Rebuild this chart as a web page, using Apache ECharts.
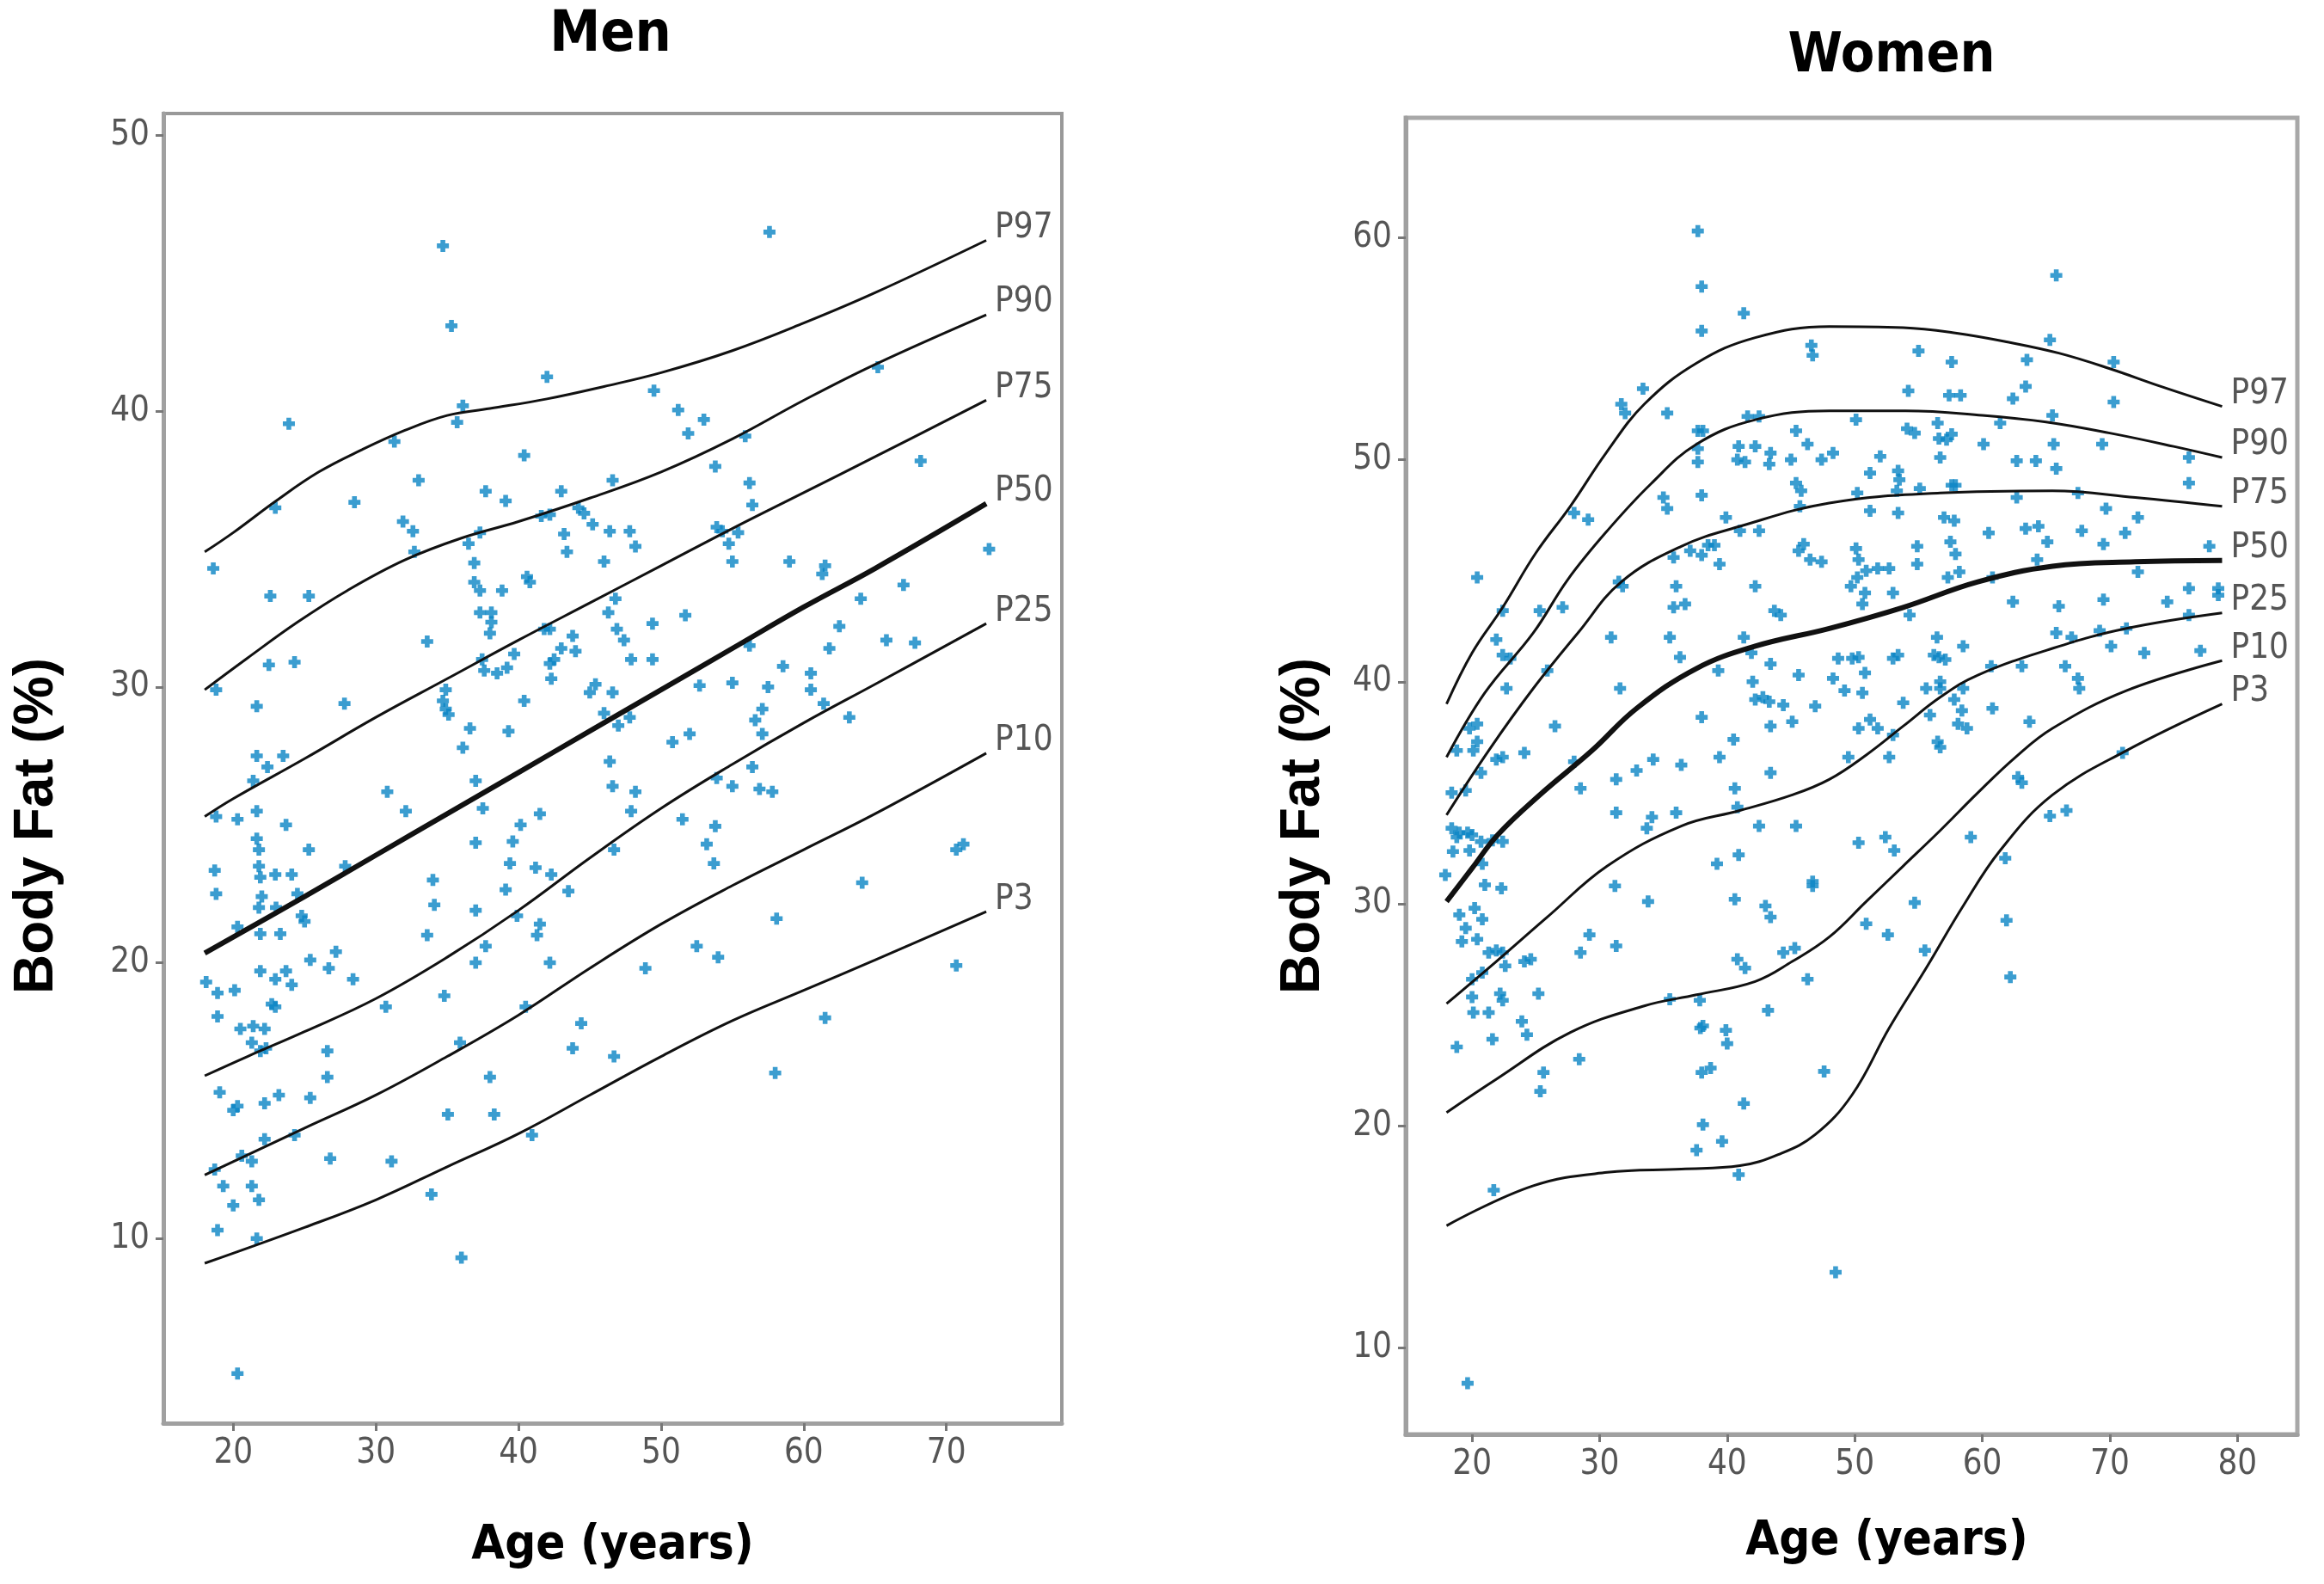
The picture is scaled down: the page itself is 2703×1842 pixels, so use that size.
<!DOCTYPE html>
<html><head><meta charset="utf-8">
<script src="https://cdn.jsdelivr.net/npm/echarts@6/dist/echarts.min.js"></script>
<style>html,body{margin:0;padding:0;background:#fff}#c{width:2703px;height:1842px}</style>
</head><body><div id="c"></div>
<script>
// ---------- tick labels ----------
const menXTicks = [20, 30, 40, 50, 60, 70];
const menYTicks = [10, 20, 30, 40, 50];
const womenXTicks = [20, 30, 40, 50, 60, 70, 80];
const womenYTicks = [10, 20, 30, 40, 50, 60];
const percentileNames = ['P97', 'P90', 'P75', 'P50', 'P25', 'P10', 'P3'];

// ---------- Men percentile curves [age, body fat %] ----------
const menP97 = [[18,34.9],[20,35.6],[23,36.75],[26,37.8],[29,38.6],[32,39.3],[35,39.85],[38,40.1],[42,40.45],[46,40.9],[50,41.4],[55,42.2],[60,43.2],[65,44.3],[72.8,46.2]];
const menP90 = [[18,29.9],[21,31.05],[24.5,32.35],[28,33.5],[32,34.6],[36,35.4],[40,36.0],[45,36.85],[50,37.8],[55,39.0],[60,40.4],[65,41.7],[72.8,43.5]];
const menP75 = [[18,25.3],[20,25.95],[25,27.4],[30,28.9],[35,30.3],[40,31.7],[45,33.05],[50,34.4],[55,35.75],[60,37.05],[65,38.35],[72.8,40.4]];
const menP50 = [[18,20.35],[25,22.4],[30,23.9],[35,25.4],[40,26.9],[45,28.4],[50,29.9],[55,31.4],[60,32.9],[65,34.3],[72.8,36.65]];
const menP25 = [[18,15.9],[21,16.6],[25,17.5],[30,18.7],[35,20.2],[40,21.9],[45,23.8],[50,25.6],[55,27.2],[60,28.7],[65,30.1],[72.8,32.3]];
const menP10 = [[18,12.3],[25,14.0],[30,15.2],[35,16.6],[40,18.1],[45,19.8],[50,21.4],[55,22.8],[60,24.1],[65,25.4],[72.8,27.6]];
const menP3  = [[18,9.1],[25,10.4],[30,11.4],[35,12.6],[40,13.8],[45,15.2],[50,16.6],[55,17.9],[60,19.0],[65,20.1],[72.8,21.85]];

// ---------- Women percentile curves ----------
const womenP97 = [[18,39.0],[20,41.3],[22.4,43.35],[25,45.8],[27.7,47.9],[30.5,50.3],[33.5,52.5],[37.6,54.35],[42.2,55.5],[48,56.0],[53.8,55.95],[58,55.7],[62,55.3],[66,54.8],[70,54.1],[74,53.3],[78.8,52.4]];
const womenP90 = [[18,36.6],[21,39.5],[24.8,42.2],[27.5,44.6],[30.6,46.8],[34,48.9],[37.6,50.7],[42.2,51.8],[48,52.2],[54,52.2],[60,52.0],[65,51.7],[70,51.2],[75,50.6],[78.8,50.1]];
const womenP75 = [[18,34.0],[21.3,36.9],[24.8,39.7],[28.3,42.2],[31.7,44.5],[36.4,46.1],[41,47.0],[48,48.05],[56.7,48.5],[65.5,48.6],[72,48.3],[78.8,47.9]];
const womenP50 = [[18,30.1],[20,31.6],[22,33.1],[25.3,34.9],[29.4,36.9],[32.9,38.8],[37.6,40.6],[42.2,41.6],[48,42.4],[53.8,43.35],[59.65,44.5],[65.5,45.2],[72,45.4],[78.8,45.46]];
const womenP25 = [[18,25.5],[21.9,27.4],[25.9,29.4],[30.6,31.7],[36.4,33.5],[41,34.2],[45.1,34.9],[48,35.6],[50.9,36.7],[53.8,38.0],[56.7,39.3],[59.65,40.3],[65.5,41.5],[71.3,42.4],[78.8,43.1]];
const womenP10 = [[18,20.6],[21.9,22.1],[27.7,24.2],[33.5,25.4],[37.6,25.9],[42.2,26.5],[45.1,27.4],[48,28.5],[50.9,30.1],[53.8,31.7],[56.7,33.3],[59.65,35.0],[62.6,36.6],[65.5,37.9],[71.3,39.6],[78.8,40.95]];
const womenP3  = [[18,15.5],[24.8,17.3],[30.6,17.9],[36.4,18.05],[41,18.2],[44,18.7],[46.9,19.6],[49.8,21.4],[52.7,24.4],[55.6,27.1],[58.5,29.9],[61.4,32.4],[65.5,34.9],[71.3,36.9],[78.8,39.0]];

// ---------- Men measurements [age, body fat %] ----------
const menPoints = [
[34.7,46.0],[35.3,43.1],[57.6,46.5],[42.0,41.25],[49.5,40.75],[51.2,40.05],[53.0,39.7],[51.9,39.2],[55.9,39.1],[36.1,40.2],[35.7,39.6],[23.9,39.55],[31.3,38.9],[33.0,37.5],[28.5,36.7],[22.95,36.5],[37.7,37.1],[39.1,36.75],[43.0,37.1],[40.4,38.4],[46.6,37.5],[53.8,38.0],[56.2,37.4],[56.4,36.6],[68.2,38.2],[65.2,41.6],
[31.9,36.0],[32.6,35.65],[32.7,34.9],[36.5,35.2],[36.9,34.5],[37.3,35.6],[41.6,36.2],[42.2,36.25],[43.2,35.55],[43.4,34.9],[44.2,36.5],[44.6,36.3],[45.2,35.9],[46.4,35.65],[47.8,35.65],[48.2,35.1],[46.0,34.55],[53.9,35.8],[54.3,35.65],[54.75,35.2],[55.4,35.6],[55.0,34.55],[59.0,34.55],[61.3,34.1],[61.5,34.4],[73.0,35.0],[67.0,33.7],[64.0,33.2],[62.5,32.2],[61.8,31.4],[65.8,31.7],[67.8,31.6],
[58.55,30.75],[60.5,30.5],[60.5,29.9],[61.4,29.4],[63.2,28.9],[57.5,30.0],[57.1,29.2],[56.6,28.8],[57.1,28.3],[56.2,31.5],[55.0,30.15],[52.7,30.05],[51.7,32.6],[49.4,32.3],[49.4,31.0],[47.9,31.0],[47.4,31.7],[46.9,32.1],[46.3,32.7],[46.8,33.2],[46.6,29.8],[45.4,30.1],[45.0,29.8],[46.0,29.05],[47.0,28.6],[47.8,28.9],[52.0,28.3],[50.8,28.0],[46.4,27.3],[46.6,26.4],[48.2,26.2],[53.9,26.7],[55.0,26.4],[56.4,27.1],[56.9,26.3],[57.8,26.2],
[42.2,32.1],[41.8,32.1],[43.8,31.85],[43.0,31.4],[44.0,31.3],[42.5,31.0],[42.2,30.85],[42.3,30.3],[39.7,31.2],[39.2,30.7],[38.5,30.5],[37.6,30.6],[37.45,31.0],[37.3,32.7],[38.1,32.7],[38.1,32.35],[38.0,31.95],[36.9,33.8],[37.3,33.5],[38.85,33.5],[40.6,34.0],[40.8,33.8],[40.4,29.5],[34.9,29.9],[34.7,29.5],[34.9,29.2],[35.1,29.0],[36.6,28.5],[39.3,28.4],[36.1,27.8],[37.0,26.6],[33.6,31.65],[27.8,29.4],[21.65,29.3],[18.8,29.9],[22.5,30.8],[24.3,30.9],[22.6,33.3],[25.3,33.3],[18.6,34.3],[21.65,27.5],[22.4,27.1],[23.5,27.5],[21.4,26.6],[30.8,26.2],
[18.8,25.3],[20.3,25.2],[21.65,25.5],[21.65,24.5],[21.8,24.1],[21.8,23.5],[21.9,23.1],[22.0,22.4],[21.8,22.0],[21.9,21.05],[20.3,21.3],[23.7,25.0],[25.3,24.1],[18.7,23.35],[18.8,22.5],[22.95,23.2],[24.1,23.2],[23.3,21.05],[23.0,22.0],[24.5,22.5],[24.8,21.7],[25.0,21.5],[27.85,23.5],
[21.9,19.7],[23.7,19.7],[22.95,19.4],[24.1,19.2],[25.4,20.1],[26.7,19.8],[27.2,20.4],[28.4,19.4],[18.1,19.3],[18.9,18.9],[20.1,19.0],[22.7,18.5],[22.95,18.4],[18.9,18.05],[20.5,17.6],[21.4,17.7],[22.2,17.6],[21.3,17.1],[21.9,16.8],[22.3,16.9],[26.6,16.8],[26.6,15.85],[19.05,15.3],[20.3,14.8],[20.0,14.65],[22.2,14.9],[23.2,15.2],[25.4,15.1],[22.2,13.6],[24.3,13.75],[20.6,13.0],[21.3,12.8],[18.7,12.5],[26.8,12.9],[31.1,12.8],[19.3,11.9],[21.3,11.9],[20.0,11.2],[21.8,11.4],[18.9,10.3],[21.65,10.0],[20.3,5.1],
[36.0,9.3],[33.9,11.6],[35.05,14.5],[38.3,14.5],[40.95,13.75],[38.0,15.85],[35.9,17.1],[34.8,18.8],[30.7,18.4],[33.6,21.0],[34.1,22.1],[34.0,23.0],[37.0,21.9],[37.0,20.0],[37.7,20.6],[39.9,21.7],[39.1,22.65],[39.4,23.6],[39.6,24.4],[40.15,25.0],[41.2,23.45],[42.3,23.2],[43.5,22.6],[41.5,21.4],[41.3,21.0],[42.2,20.0],[41.5,25.4],[37.0,24.35],[32.1,25.5],[37.5,25.6],[40.5,18.4],[44.4,17.8],[43.8,16.9],[46.7,16.6],
[46.7,24.1],[47.9,25.5],[51.5,25.2],[53.2,24.3],[53.8,24.95],[53.7,23.6],[52.5,20.6],[54.0,20.2],[48.9,19.8],[58.1,21.6],[58.0,16.0],[61.5,18.0],[64.1,22.9],[70.7,24.1],[71.2,24.3],[70.7,19.9]
];

// ---------- Women measurements [age, body fat %] ----------
const womenPoints = [
[37.7,60.3],[38.0,57.8],[38.0,55.8],[41.3,56.6],[65.8,58.3],[46.6,55.15],[46.7,54.7],[55.0,54.9],[57.6,54.4],[63.5,54.5],[65.3,55.4],[70.3,54.4],[63.4,53.3],[62.4,52.75],[54.2,53.1],[57.4,52.9],[58.3,52.9],[70.3,52.6],
[31.7,52.5],[32.0,52.1],[33.4,53.2],[35.3,52.1],[37.7,51.3],[38.1,51.3],[41.6,51.95],[42.5,51.95],[50.1,51.8],[56.5,51.65],[61.4,51.65],[65.5,52.0],[45.4,51.3],[46.3,50.7],[54.1,51.4],[54.7,51.2],[56.6,50.95],[57.6,51.15],[57.2,50.9],[60.1,50.7],[65.6,50.7],[69.4,50.7],
[37.7,50.5],[37.7,49.9],[40.9,50.6],[42.2,50.6],[43.4,50.3],[40.8,50.0],[41.4,49.9],[43.3,49.8],[45.0,50.0],[47.4,50.0],[48.3,50.3],[52.0,50.15],[56.7,50.1],[62.7,49.95],[64.2,49.95],[65.8,49.6],[76.2,50.1],[76.2,48.95],
[51.2,49.4],[53.4,49.5],[53.5,49.1],[53.3,48.6],[55.1,48.7],[57.6,48.85],[57.9,48.85],[45.4,48.95],[45.8,48.6],[50.2,48.5],[62.7,48.3],[67.5,48.5],[35.0,48.3],[38.0,48.4],[35.3,47.8],[45.7,47.9],[51.2,47.7],[53.4,47.6],[69.7,47.8],[72.2,47.4],[28.0,47.6],[29.1,47.3],[39.9,47.4],[57.0,47.4],[57.8,47.25],[63.4,46.9],[64.4,47.0],[67.8,46.8],[41.0,46.8],[42.5,46.8],[60.5,46.7],[71.2,46.7],[65.1,46.3],[69.5,46.2],[77.8,46.1],
[38.5,46.15],[39.0,46.15],[38.0,45.7],[37.1,45.9],[35.8,45.6],[39.4,45.3],[45.6,45.9],[46.0,46.2],[46.5,45.5],[47.4,45.4],[50.1,46.0],[50.3,45.5],[54.9,46.1],[54.9,45.3],[57.5,46.3],[57.9,45.75],[58.2,44.95],[57.3,44.7],[64.3,45.5],[72.2,44.95],
[50.2,44.7],[50.9,45.0],[51.8,45.1],[52.7,45.1],[49.7,44.3],[50.8,44.0],[50.6,43.5],[53.0,44.0],[54.3,43.0],[60.8,44.7],[62.4,43.6],[66.0,43.4],[69.5,43.7],[74.5,43.6],[76.2,44.2],[76.2,43.0],[78.5,44.2],[78.5,43.9],
[31.5,44.5],[31.8,44.3],[36.0,44.3],[35.8,43.35],[36.7,43.5],[42.2,44.3],[43.7,43.2],[44.2,43.0],[27.1,43.35],[25.3,43.2],[22.4,43.2],[20.4,44.7],[30.9,42.0],[35.5,42.0],[41.3,42.0],[65.8,42.2],[67.0,42.0],[69.2,42.3],[70.1,41.6],[71.3,42.4],[72.7,41.3],[77.1,41.4],
[56.45,42.0],[58.5,41.6],[56.6,41.1],[57.1,41.0],[56.2,41.2],[53.4,41.2],[53.0,41.05],[48.7,41.05],[49.8,41.05],[50.3,41.1],[60.7,40.7],[63.1,40.7],[66.5,40.7],[67.5,40.15],[67.6,39.7],[36.3,41.1],[39.3,40.5],[41.9,41.3],[43.4,40.8],[42.0,40.0],[45.6,40.3],[48.3,40.15],[49.2,39.6],[50.8,40.4],[50.6,39.5],[55.6,39.7],[56.7,40.0],[56.7,39.7],[58.5,39.7],[31.6,39.7],[22.7,39.7],[22.4,41.2],[23.0,41.05],[21.9,41.9],[25.9,40.5],
[42.2,39.2],[42.8,39.3],[43.3,39.1],[44.4,38.95],[46.9,38.9],[53.8,39.05],[57.8,39.2],[58.4,38.7],[60.8,38.8],[63.7,38.2],[38.0,38.4],[50.3,37.9],[51.2,38.3],[51.8,37.9],[43.4,38.0],[45.1,38.2],[55.9,38.5],[58.1,38.1],[58.8,37.9],[26.5,38.0],[56.5,37.3],[56.7,37.05],[53.0,37.6],[40.5,37.4],[39.4,36.6],[43.4,35.9],[36.4,36.25],[34.2,36.5],[32.9,36.0],[31.3,35.6],[49.5,36.6],[52.7,36.6],[28.0,36.4],[24.1,36.8],[22.4,36.6],[21.9,36.5],[20.7,35.9],[20.1,36.9],[18.8,36.9],[18.4,35.0],[19.5,35.1],[20.4,37.3],[19.8,37.9],[20.4,38.1],[28.5,35.2],[40.6,35.2],[62.8,35.7],[63.1,35.45],[71.0,36.8],
[31.3,34.1],[34.1,33.9],[36.0,34.1],[33.7,33.4],[40.8,34.35],[42.5,33.5],[45.4,33.5],[18.4,33.4],[19.0,33.2],[18.8,33.0],[19.65,33.2],[20.0,33.1],[20.7,32.8],[21.6,32.85],[22.4,32.8],[18.5,32.35],[19.8,32.4],[20.8,31.8],[17.9,31.3],[21.0,30.85],[22.3,30.7],[39.2,31.8],[40.9,32.2],[50.3,32.75],[52.4,33.0],[53.1,32.4],[59.1,33.0],[65.3,33.95],[66.6,34.2],[61.8,32.05],[46.7,31.0],[46.7,30.8],[31.2,30.8],[33.8,30.1],[40.6,30.2],[43.0,29.9],[43.4,29.4],[54.7,30.05],[50.9,29.1],[52.6,28.6],[61.9,29.25],
[19.0,29.5],[20.2,29.8],[20.8,29.3],[19.5,28.9],[20.4,28.4],[19.2,28.3],[21.3,27.8],[21.9,27.9],[22.4,27.8],[22.6,27.2],[20.8,26.9],[20.0,26.6],[24.1,27.4],[24.6,27.5],[29.2,28.6],[28.5,27.8],[31.3,28.1],[55.5,27.9],[44.4,27.8],[45.3,28.0],[40.8,27.5],[41.4,27.1],[62.2,26.7],[46.3,26.6],
[20.0,25.8],[20.1,25.1],[21.3,25.1],[22.2,25.95],[22.4,25.65],[25.2,25.95],[35.5,25.7],[37.85,25.65],[43.2,25.2],[23.9,24.7],[24.3,24.1],[21.6,23.9],[37.9,24.4],[38.1,24.5],[39.9,24.3],[40.0,23.7],[18.8,23.55],[28.4,23.0],[25.6,22.4],[25.35,21.55],[38.7,22.6],[38.0,22.4],[47.6,22.45],[41.3,21.0],[38.1,20.05],[39.6,19.3],[37.6,18.9],[40.9,17.8],[21.7,17.1],[48.5,13.4],[19.65,8.4]
];

// ---------- styles ----------
const NARROW = "'Liberation Sans Narrow','DejaVu Sans Condensed',sans-serif";
const PLUS = 'path://M3,0H7V3H10V7H7V10H3V7H0V3H3Z';
const PT_COLOR = '#0a84c4';

function xAxisCfg(gi, min, max, ticks, nameGap, shift) {
  return {
    type: 'value', gridIndex: gi, min: min, max: max,
    axisLine: {show: true, onZero: false, lineStyle: {color: '#a0a0a0', width: 5}},
    axisTick: {show: true, length: 9, customValues: ticks, lineStyle: {color: '#777', width: 3}},
    axisLabel: {customValues: ticks, color: '#555', fontFamily: NARROW, fontSize: 40, margin: 16},
    splitLine: {show: false},
    name: 'Age (years)', nameLocation: 'middle', nameGap: nameGap,
    nameTextStyle: {color: '#000', fontFamily: NARROW, fontWeight: 'bold', fontSize: 56, padding: [0, 0, 0, shift]}
  };
}
function yAxisCfg(gi, min, max, ticks, nameGap, shift) {
  return {
    type: 'value', gridIndex: gi, min: min, max: max,
    axisLine: {show: true, onZero: false, lineStyle: {color: '#a0a0a0', width: 5}},
    axisTick: {show: true, length: 9, customValues: ticks, lineStyle: {color: '#777', width: 3}},
    axisLabel: {customValues: ticks, color: '#555', fontFamily: NARROW, fontSize: 40, margin: 16},
    splitLine: {show: false},
    name: 'Body Fat (%)', nameLocation: 'middle', nameGap: nameGap, nameRotate: 90,
    nameTextStyle: {color: '#000', fontFamily: "'Liberation Sans','DejaVu Sans',sans-serif", fontWeight: 'bold', fontSize: 64, padding: [0, shift, 0, 0]}
  };
}
function curves(gi, arrays) {
  return arrays.map(function (d, i) {
    const name = percentileNames[i];
    return {
      type: 'line', name: name, xAxisIndex: gi, yAxisIndex: gi, data: d,
      smooth: 0.4, showSymbol: false, silent: true, z: 3,
      lineStyle: {color: '#111', width: name === 'P50' ? 6 : 3},
      endLabel: {show: true, formatter: '{a}', color: '#555', fontFamily: NARROW, fontSize: 40, distance: 10, offset: [0, -14]}
    };
  });
}

const chart = echarts.init(document.getElementById('c'));
chart.setOption({
  animation: false,
  backgroundColor: '#fff',
  title: [
    {text: 'Men', left: 710, top: 42, textAlign: 'center', textVerticalAlign: 'middle', padding: 0,
     textStyle: {fontFamily: NARROW, fontWeight: 'bold', fontSize: 66, color: '#000'}},
    {text: 'Women', left: 2200, top: 66, textAlign: 'center', textVerticalAlign: 'middle', padding: 0,
     textStyle: {fontFamily: NARROW, fontWeight: 'bold', fontSize: 64, color: '#000'}}
  ],
  grid: [
    {left: 190, top: 132, width: 1045, height: 1523, show: true, borderColor: '#999', borderWidth: 4, backgroundColor: '#fff'},
    {left: 1635, top: 137, width: 1037, height: 1531, show: true, borderColor: '#a8a8a8', borderWidth: 5, backgroundColor: '#fff'}
  ],
  xAxis: [
    xAxisCfg(0, 15.1, 78.1, menXTicks, 114, 0),
    xAxisCfg(1, 14.8, 84.7, womenXTicks, 96, 82)
  ],
  yAxis: [
    yAxisCfg(0, 3.3, 50.8, menYTicks, 115, 134),
    yAxisCfg(1, 6.1, 65.4, womenYTicks, 87, 116)
  ],
  series: [
    {type: 'scatter', name: 'Men', xAxisIndex: 0, yAxisIndex: 0, data: menPoints, symbol: PLUS, symbolSize: 14, itemStyle: {color: PT_COLOR}, silent: true, z: 2},
    {type: 'scatter', name: 'Women', xAxisIndex: 1, yAxisIndex: 1, data: womenPoints, symbol: PLUS, symbolSize: 14, itemStyle: {color: PT_COLOR}, silent: true, z: 2}
  ].concat(
    curves(0, [menP97, menP90, menP75, menP50, menP25, menP10, menP3]),
    curves(1, [womenP97, womenP90, womenP75, womenP50, womenP25, womenP10, womenP3])
  )
});
</script>
</body></html>
